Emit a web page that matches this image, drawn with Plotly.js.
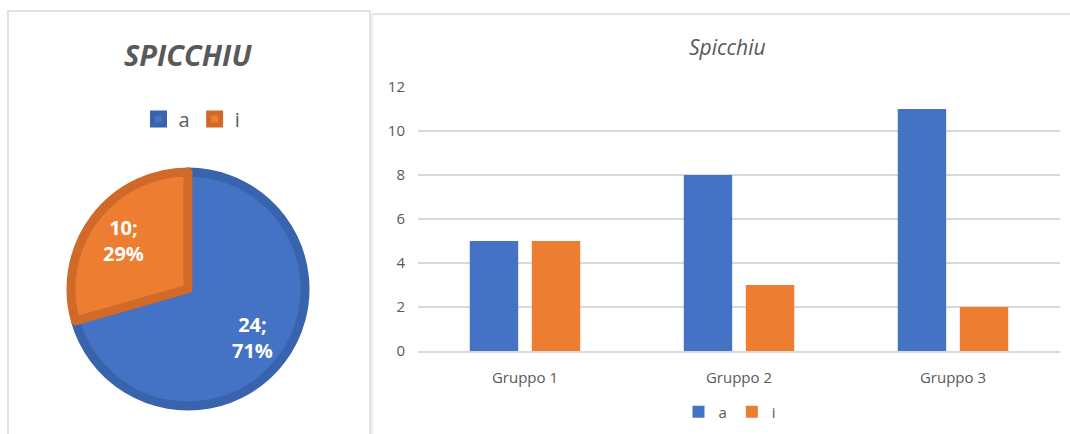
<!DOCTYPE html>
<html><head><meta charset="utf-8">
<script src="https://cdn.plot.ly/plotly-3.0.1.min.js"></script>
<style>html,body{margin:0;padding:0;background:#fff}#c{width:1070px;height:434px}</style>
</head><body><div id="c"></div>
<script>
const pieLabels = ['a', 'i'];
const pieValues = [24, 10];
const groups = ['Gruppo 1', 'Gruppo 2', 'Gruppo 3'];
const seriesA = [5, 8, 11];
const seriesI = [5, 3, 2];
const blue = '#4472c4', orange = '#ed7d31';
const font = '"Open Sans", "Noto Sans", sans-serif';
const W = 1070, H = 434;
const px = x => x / W, py = y => 1 - y / H;

// pie geometry (domain) and data labels placed at each slice's mid-angle, like the original
const pieCx = 188, pieCy = 289, pieR = 117;
const total = pieValues.reduce((s, v) => s + v, 0);
const pieAnnotations = [];
let acc = 0;
pieValues.forEach((v, i) => {
  const mid = (acc + v / 2) / total * 2 * Math.PI;
  acc += v;
  const r = pieR * 0.69;
  pieAnnotations.push({
    text: '<b>' + v + ';<br>' + Math.round(v / total * 100) + '%</b>',
    xref: 'paper', yref: 'paper',
    x: px(pieCx + r * Math.sin(mid)), y: py(pieCy - r * Math.cos(mid)),
    xanchor: 'center', yanchor: 'middle', showarrow: false,
    font: {size: 20, color: '#ffffff', family: font}
  });
});

const traces = [
  {
    type: 'pie', labels: pieLabels, values: pieValues, sort: false, direction: 'clockwise', rotation: 0,
    marker: {colors: [blue, orange], line: {color: ['#3a63ad', '#d0692a'], width: 9}},
    textinfo: 'none',
    domain: {x: [px(pieCx - pieR), px(pieCx + pieR)], y: [py(pieCy + pieR), py(pieCy - pieR)]},
    legend: 'legend', hoverinfo: 'none'
  },
  {type: 'bar', name: 'a', x: groups, y: seriesA, marker: {color: blue}, legend: 'legend2', xaxis: 'x', yaxis: 'y'},
  {type: 'bar', name: 'i', x: groups, y: seriesI, marker: {color: orange}, legend: 'legend2', xaxis: 'x', yaxis: 'y'}
];

const layout = {
  width: W, height: H, margin: {l: 0, r: 0, t: 0, b: 0},
  paper_bgcolor: '#fff', plot_bgcolor: '#fff',
  font: {family: font, color: '#595959'},
  barmode: 'group', bargap: 0.42, bargroupgap: 0.22,
  xaxis: {domain: [px(418), px(1060)], tickfont: {size: 15, color: '#595959'}, showline: true, linecolor: '#d9d9d9', linewidth: 1.5, ticks: '', ticklabelstandoff: 12, fixedrange: true},
  yaxis: {domain: [py(351), py(87)], range: [0, 12], dtick: 2, gridcolor: '#d9d9d9', gridwidth: 1.5, tickfont: {size: 15, color: '#595959'}, zeroline: false, ticks: '', ticklabelstandoff: 12, fixedrange: true},
  legend: {orientation: 'h', x: px(192), xanchor: 'center', y: py(119), yanchor: 'middle', font: {size: 20, color: '#595959'}, itemwidth: 30, traceorder: 'normal'},
  legend2: {orientation: 'h', x: px(730), xanchor: 'center', y: py(412), yanchor: 'middle', font: {size: 15, color: '#595959'}, itemwidth: 30},
  annotations: [
    {text: '<b><i>SPICCHIU</i></b>', xref: 'paper', yref: 'paper', x: px(188), y: py(55), xanchor: 'center', yanchor: 'middle', showarrow: false, font: {size: 29, color: '#595959', family: font}},
    {text: '<i>Spicchiu</i>', xref: 'paper', yref: 'paper', x: px(727), y: py(47), xanchor: 'center', yanchor: 'middle', showarrow: false, font: {size: 21, color: '#595959', family: font}}
  ].concat(pieAnnotations),
  shapes: [
    {type: 'rect', xref: 'paper', yref: 'paper', x0: px(8), x1: px(370), y0: py(440), y1: py(11), line: {color: '#d9d9d9', width: 1.5}},
    {type: 'line', xref: 'paper', yref: 'paper', x0: px(372), x1: px(1070), y0: py(14), y1: py(14), line: {color: '#d9d9d9', width: 1.5}},
    {type: 'line', xref: 'paper', yref: 'paper', x0: px(372), x1: px(372), y0: py(14), y1: py(440), line: {color: '#d9d9d9', width: 1}}
  ],
  showlegend: true
};
Plotly.newPlot('c', traces, layout, {displayModeBar: false, staticPlot: true});
</script></body></html>
